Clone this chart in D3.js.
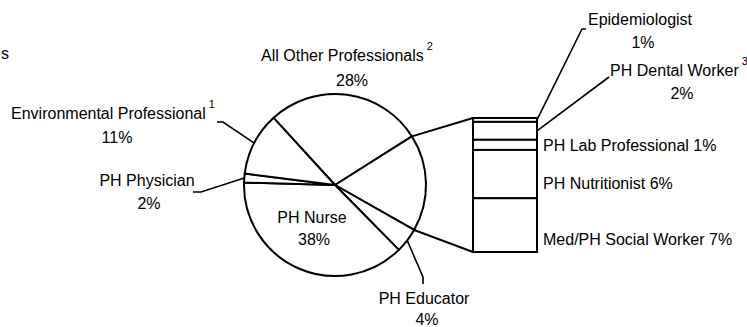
<!DOCTYPE html>
<html>
<head>
<meta charset="utf-8">
<script src="https://cdn.jsdelivr.net/npm/d3@7"></script>
<style>
html, body { margin: 0; padding: 0; background: #fff; }
svg text { font-family: "Liberation Sans", Arial, sans-serif; font-size: 16px; fill: #000; }
</style>
</head>
<body>
<div id="chart"></div>
<script>
// pie slices, clockwise from the upper-left edge of "All Other"
const pieNames = ["All Other Professionals", "Other", "PH Educator", "PH Nurse", "PH Physician", "Environmental Professional"];
const pieValues = [27.8, 17.2, 4.4, 37.8, 1.6, 11.2];
const pieNotes = ["2", "", "", "", "", "1"];

// bar breaking out the "Other" slice, top to bottom
const barNames = ["Epidemiologist", "PH Dental Worker", "PH Lab Professional", "PH Nutritionist", "Med/PH Social Worker"];
const barValues = [0.5, 2.3, 1.3, 6.2, 6.9];
const barNotes = ["", "3", "", "", ""];

const W = 747, H = 327;
const cx = 335, cy = 185, R = 91;
const startDeg = -42.4;
const barBox = { x: 473, y: 118, w: 64, h: 134 };
const barSlice = 1; // index of the pie slice shown as the bar

// label layout (name line centre, percent line centre, optional leader end)
const pieLabelPos = [
    { x: 347, y: 55, px: 352, py: 80 },
    null,
    { x: 424, y: 298, px: 427, py: 319, leader: [[423, 277], [423, 284]] },
    { x: 312, y: 217, px: 314, py: 239 },
    { x: 147, y: 180, px: 149, py: 203, leader: [[201, 192], [193, 192]] },
    { x: 113, y: 113, px: 117, py: 137, leader: [[223, 122], [217, 122]] }
];
const barLabelPos = [
    { x: 640, y: 19, px: 643, py: 42, leader: [[582, 29], [586, 29]] },
    { x: 679, y: 70, px: 682, py: 93, leader: [[609, 77]] },
    { x: 543, y: 145 },
    { x: 543, y: 183 },
    { x: 543, y: 239 }
];

const pct = v => Math.round(v) + "%";

function addName(g, x, y, name, note, anchor) {
    const t = g.append("text")
        .attr("x", x).attr("y", y)
        .attr("text-anchor", anchor)
        .attr("dominant-baseline", "central");
    t.append("tspan").text(name);
    if (note) {
        t.append("tspan")
            .attr("dx", 3).attr("dy", -9)
            .style("font-size", "11px")
            .text(note);
    }
    return t;
}

function drawChart() {
    const svg = d3.select("#chart").append("svg")
        .attr("width", W).attr("height", H);
    const g = svg.append("g");

    // cut-off title fragment
    g.append("text").attr("x", 1).attr("y", 53)
        .attr("dominant-baseline", "central").text("s");

    const a0 = startDeg * Math.PI / 180;
    const pie = d3.pie().sort(null).startAngle(a0).endAngle(a0 + 2 * Math.PI);
    const arcs = pie(pieValues);
    const arc = d3.arc().innerRadius(0).outerRadius(R);
    const onCircle = a => [cx + R * Math.sin(a), cy - R * Math.cos(a)];

    g.append("g").attr("transform", `translate(${cx},${cy})`)
        .selectAll("path")
        .data(arcs)
        .enter()
        .append("path")
        .attr("d", arc)
        .attr("fill", "#fff")
        .attr("stroke", "#000")
        .attr("stroke-width", 2)
        .attr("stroke-linejoin", "round");

    // bar of the broken-out slice
    const y = d3.scaleLinear()
        .domain([0, d3.sum(barValues)])
        .range([barBox.y, barBox.y + barBox.h]);
    const cum = d3.cumsum(barValues);
    const segs = barValues.map((v, i) => ({ v, y0: y(cum[i] - v), y1: y(cum[i]) }));

    g.selectAll(".seg")
        .data(segs)
        .enter()
        .append("rect")
        .attr("class", "seg")
        .attr("x", barBox.x)
        .attr("y", d => d.y0)
        .attr("width", barBox.w)
        .attr("height", d => d.y1 - d.y0)
        .attr("fill", "#fff")
        .attr("stroke", "#000")
        .attr("stroke-width", 2);

    // connectors from the slice edges to the bar
    const s = arcs[barSlice];
    const p0 = onCircle(s.startAngle), p1 = onCircle(s.endAngle);
    const line = d3.line();
    g.append("path").attr("d", line([p0, [barBox.x, barBox.y]]))
        .attr("stroke", "#000").attr("stroke-width", 2).attr("fill", "none");
    g.append("path").attr("d", line([p1, [barBox.x, barBox.y + barBox.h]]))
        .attr("stroke", "#000").attr("stroke-width", 2).attr("fill", "none");

    // pie labels
    arcs.forEach((d, i) => {
        const L = pieLabelPos[i];
        if (!L) return;
        if (L.leader) {
            const mid = (d.startAngle + d.endAngle) / 2;
            g.append("path").attr("d", line([onCircle(mid)].concat(L.leader)))
                .attr("stroke", "#000").attr("stroke-width", 1.6).attr("fill", "none");
        }
        addName(g, L.x, L.y, pieNames[i], pieNotes[i], "middle");
        g.append("text").attr("x", L.px).attr("y", L.py)
            .attr("text-anchor", "middle").attr("dominant-baseline", "central")
            .text(pct(pieValues[i]));
    });

    // bar labels
    segs.forEach((d, i) => {
        const L = barLabelPos[i];
        if (L.leader) {
            const from = [barBox.x + barBox.w, (d.y0 + d.y1) / 2];
            g.append("path").attr("d", line([from].concat(L.leader)))
                .attr("stroke", "#000").attr("stroke-width", 1.6).attr("fill", "none");
            addName(g, L.x, L.y, barNames[i], barNotes[i], "middle");
            g.append("text").attr("x", L.px).attr("y", L.py)
                .attr("text-anchor", "middle").attr("dominant-baseline", "central")
                .text(pct(d.v));
        } else {
            g.append("text").attr("x", L.x).attr("y", L.y)
                .attr("dominant-baseline", "central")
                .text(barNames[i] + " " + pct(d.v));
        }
    });
}

drawChart();
</script>
</body>
</html>
